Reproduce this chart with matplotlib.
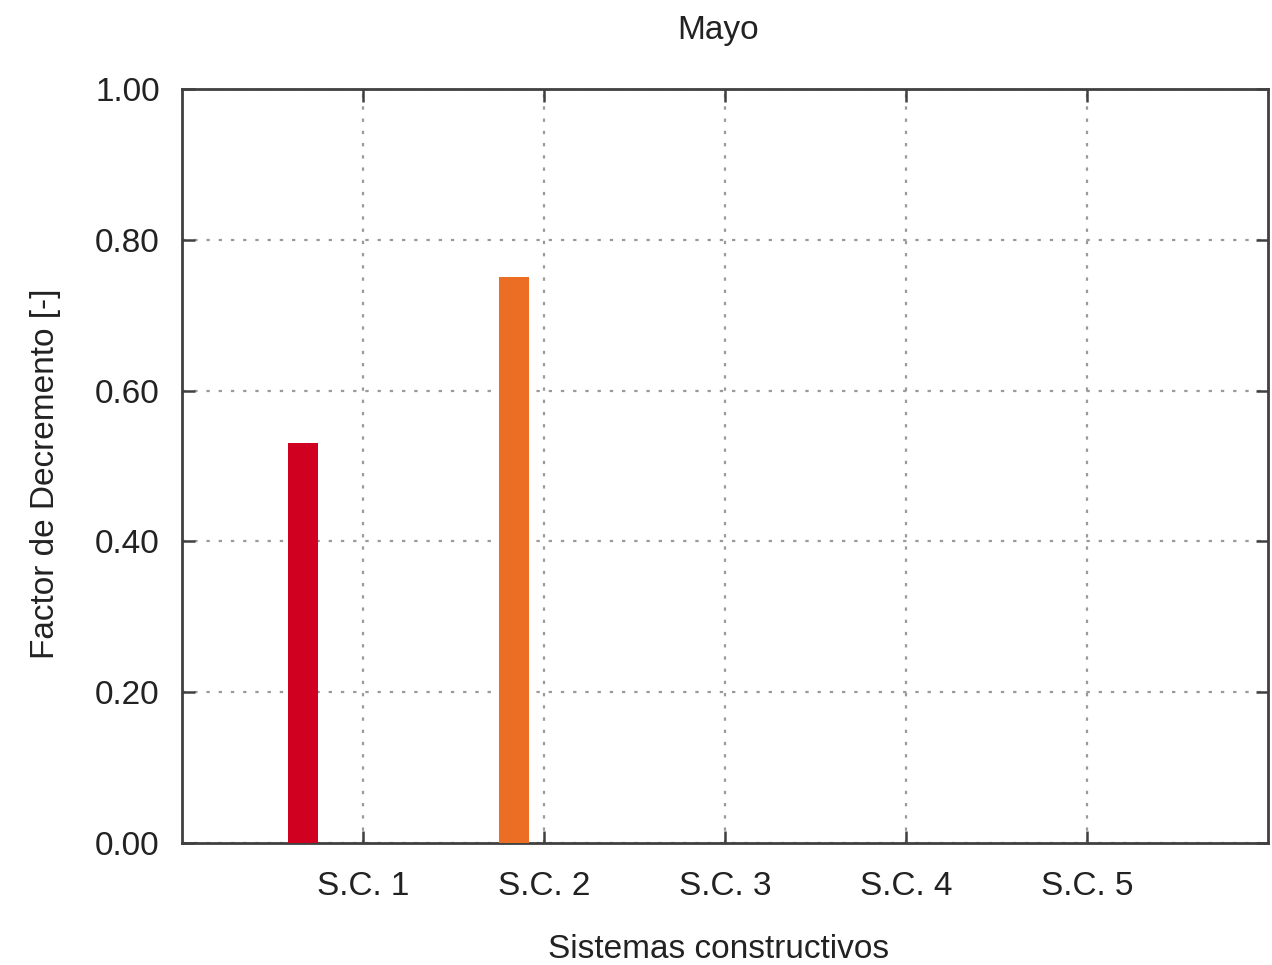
import numpy as np
import matplotlib.pyplot as plt

plt.rcParams['font.family'] = ['Liberation Sans', 'DejaVu Sans']

# --- data ---
sistemas = ["S.C. 1", "S.C. 2", "S.C. 3", "S.C. 4", "S.C. 5"]
factor_decremento = [0.53, 0.75, 0.0, 0.0, 0.0]
colores = ["#cf0020", "#ec6d24", "#f2b134", "#7fb04a", "#3d7fbf"]
y_ticks = [0.0, 0.2, 0.4, 0.6, 0.8, 1.0]

# --- figure ---
fig = plt.figure(figsize=(12.72, 9.65), dpi=100)
ax = fig.add_axes([0.1431, 0.1264, 0.8538, 0.7814])

x = np.arange(1, len(sistemas) + 1)
n = len(sistemas)
width = 1.0 / (n + 1)

# clustered histogram: each system is its own series, so it sits at its own slot
for i, (val, col) in enumerate(zip(factor_decremento, colores)):
    offset = (i - (n - 1) / 2) * width
    ax.bar(x[i] + offset, val, width=width, color=col, zorder=3)

ax.set_xlim(0, n + 1)
ax.set_ylim(0, 1)
ax.set_xticks(x)
ax.set_xticklabels(sistemas)
ax.set_yticks(y_ticks)
ax.set_yticklabels([f"{v:.2f}" for v in y_ticks])

ax.grid(True, linestyle=(0, (1.5, 4)), color="#9a9a9a", linewidth=1.6, zorder=0)
ax.tick_params(direction="in", length=9, width=1.8, color="#404040",
               top=True, right=True, labelsize=24, labelcolor="#222222")
ax.tick_params(axis="x", pad=20)
ax.tick_params(axis="y", pad=16)

for s in ax.spines.values():
    s.set_linewidth(2)
    s.set_color("#404040")

ax.set_title("Mayo", fontsize=24, color="#222222", pad=36, x=0.494)
ax.set_xlabel("Sistemas constructivos", fontsize=24, color="#222222")
ax.xaxis.set_label_coords(0.494, -0.12)
ax.set_ylabel("Factor de Decremento [-]", fontsize=24, color="#222222")
ax.yaxis.set_label_coords(-0.111, 0.49)

fig.savefig("out.png", dpi=100)
